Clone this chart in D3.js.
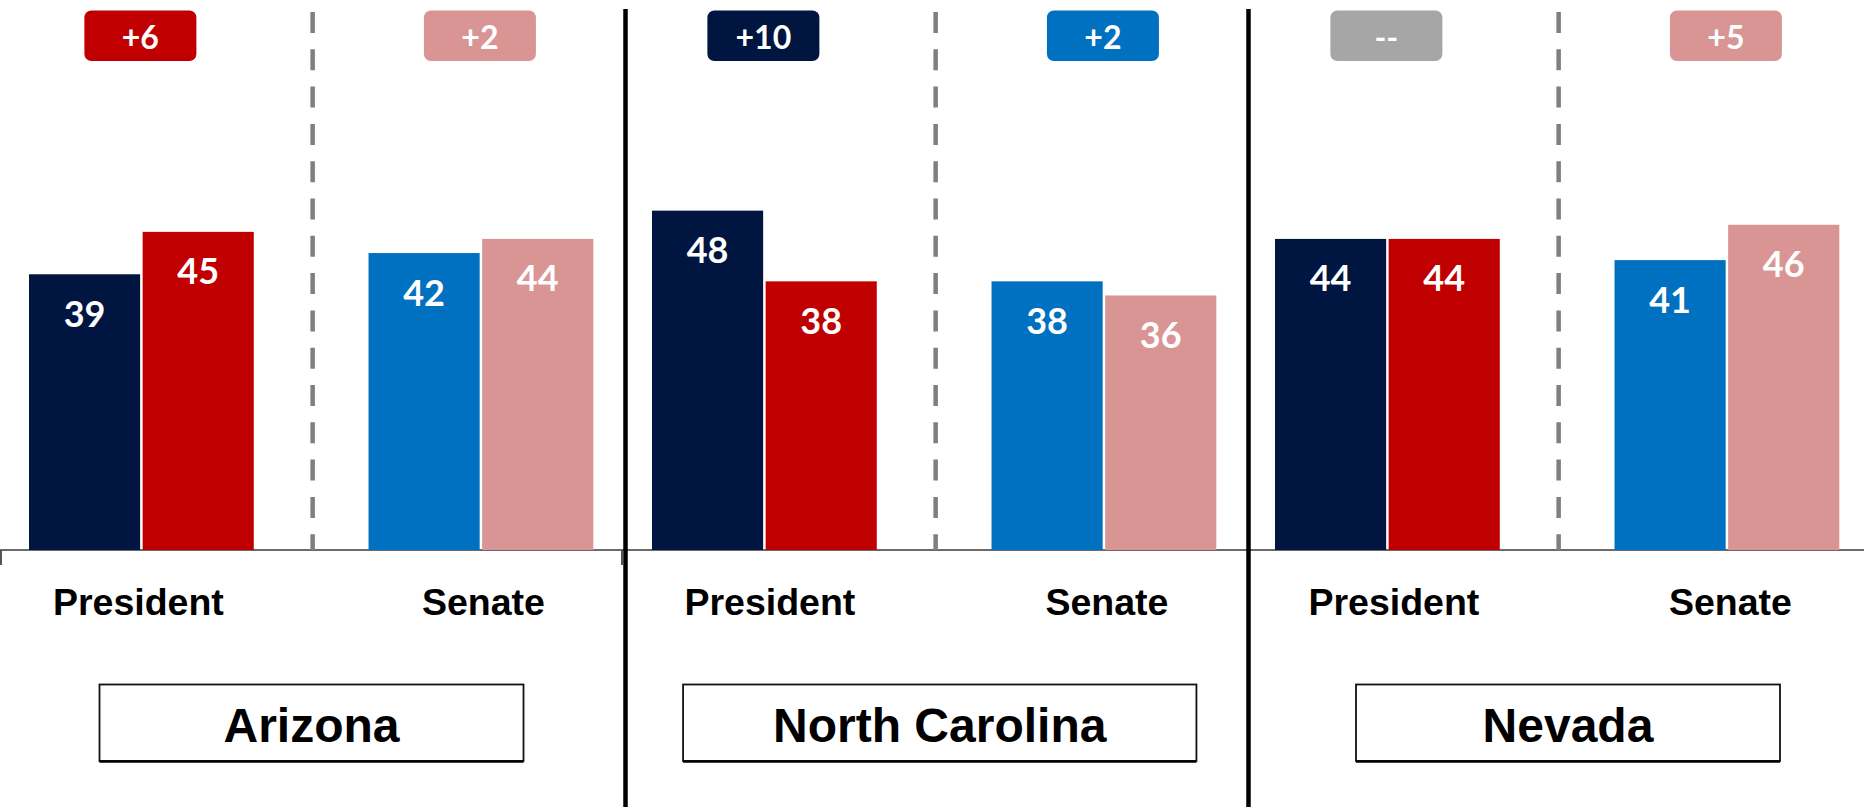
<!DOCTYPE html>
<html>
<head>
<meta charset="utf-8">
<script src="https://cdn.jsdelivr.net/npm/d3@7"></script>
<style>
  html, body { margin: 0; padding: 0; background: #ffffff; }
  svg { display: block; }
</style>
</head>
<body>
<svg id="chart" width="1864" height="807"></svg>
<script>
// ---- Data ----
const states = ["Arizona", "North Carolina", "Nevada"];
const races = ["President", "Senate"];
const demPresident = [39, 48, 44];
const repPresident = [45, 38, 44];
const demSenate = [42, 38, 41];
const repSenate = [44, 36, 46];
const presidentMargin = ["+6", "+10", "--"];
const senateMargin = ["+2", "+2", "+5"];

// ---- Styles ----
const colors = {
  President: { dem: "#001540", rep: "#C00000" },
  Senate: { dem: "#0070C0", rep: "#D99594" },
  tie: "#A6A6A6"
};

const W = 1864, H = 807;
const svg = d3.select("#chart");

const baseY = 550;
const y = d3.scaleLinear().domain([0, 50]).range([baseY, baseY - 353.5]);

const panel = d3.scaleBand().domain(states).range([0, 1869]).paddingInner(0).paddingOuter(0);
const x0 = d3.scaleBand().domain(races).range([29, 593.3]).paddingInner(0.338);
const x1 = d3.scaleBand().domain(["dem", "rep"]).range([0, x0.bandwidth()]).paddingInner(0.022);
const boxCenter = d3.scalePoint().domain(states).range([311.5, 1568]);

const rows = [];
states.forEach((s, i) => {
  rows.push({ state: s, race: "President", dem: demPresident[i], rep: repPresident[i], margin: presidentMargin[i] });
  rows.push({ state: s, race: "Senate", dem: demSenate[i], rep: repSenate[i], margin: senateMargin[i] });
});
// small horizontal nudges of the race labels (layout only)
const labelNudge = [-3, 2.5, 5.5, 3, 6.5, 3.5];

const gridLayer = svg.append("g");
const boxLayer = svg.append("g");

// baseline axis
gridLayer.append("line")
  .attr("x1", 0).attr("x2", W)
  .attr("y1", baseY).attr("y2", baseY)
  .attr("stroke", "#3a3a3a").attr("stroke-width", 1.6);

// small ticks
states.forEach((s, i) => {
  if (i === 2) return;
  const xt = panel(s) + (i === 0 ? 1 : -1);
  gridLayer.append("line")
    .attr("x1", xt).attr("x2", xt)
    .attr("y1", baseY).attr("y2", baseY + 15)
    .attr("stroke", "#555").attr("stroke-width", 2);
});

// dashed separators in each panel
states.forEach(s => {
  const xm = panel(s) + (x0("President") + x0.bandwidth() + x0("Senate")) / 2 + 1.5;
  gridLayer.append("line")
    .attr("x1", xm).attr("x2", xm)
    .attr("y1", 12).attr("y2", baseY)
    .attr("stroke", "#7F7F7F").attr("stroke-width", 4.5)
    .attr("stroke-dasharray", "21 16.3");
});

// panel separators
states.slice(1).forEach(s => {
  const xs = panel(s) + 2.5;
  gridLayer.append("line")
    .attr("x1", xs).attr("x2", xs)
    .attr("y1", 9).attr("y2", H)
    .attr("stroke", "#000").attr("stroke-width", 4.5);
});

// groups
const g = svg.selectAll("g.grp").data(rows).enter().append("g")
  .attr("class", "grp")
  .attr("transform", d => `translate(${panel(d.state) + x0(d.race)},0)`);

["dem", "rep"].forEach(party => {
  g.append("rect")
    .attr("x", x1(party))
    .attr("y", d => y(d[party]))
    .attr("width", x1.bandwidth())
    .attr("height", d => baseY - y(d[party]))
    .attr("fill", d => colors[d.race][party]);
  g.append("text")
    .attr("x", x1(party) + x1.bandwidth() / 2)
    .attr("y", d => y(d[party]) + 52.5)
    .attr("text-anchor", "middle")
    .attr("font-family", "Lato, 'Open Sans', sans-serif")
    .attr("font-weight", 700)
    .attr("font-size", 36)
    .attr("fill", "#fff")
    .text(d => d[party]);
});

// margin badges
const badgeW = 112, badgeH = 50.5;
g.append("rect")
  .attr("x", x0.bandwidth() / 2 - badgeW / 2 - 1)
  .attr("y", 10.5)
  .attr("width", badgeW).attr("height", badgeH)
  .attr("rx", 7).attr("ry", 7)
  .attr("fill", d => d.dem > d.rep ? colors[d.race].dem : (d.rep > d.dem ? colors[d.race].rep : colors.tie));
g.append("text")
  .attr("x", x0.bandwidth() / 2 - 1)
  .attr("y", 49)
  .attr("text-anchor", "middle")
  .attr("font-family", "Lato, 'Open Sans', sans-serif")
  .attr("font-weight", 700)
  .attr("font-size", 32)
  .attr("fill", "#fff")
  .text(d => d.margin);

// race labels
g.append("text")
  .attr("x", (d, i) => x0.bandwidth() / 2 + labelNudge[i])
  .attr("y", 615)
  .attr("text-anchor", "middle")
  .attr("font-family", "'Liberation Sans', Arial, sans-serif")
  .attr("font-weight", 700)
  .attr("font-size", 37.5)
  .attr("fill", "#000")
  .text(d => d.race);

// state boxes
states.forEach(s => {
  const cx = boxCenter(s);
  const rect = boxLayer.append("rect");
  const t = boxLayer.append("text")
    .attr("x", cx).attr("y", 741.5)
    .attr("text-anchor", "middle")
    .attr("font-family", "'Liberation Sans', Arial, sans-serif")
    .attr("font-weight", 700)
    .attr("font-size", 48)
    .attr("fill", "#000")
    .text(s);
  const tw = t.node().getComputedTextLength();
  const bw = Math.max(424, tw + 180);
  rect
    .attr("x", cx - bw / 2).attr("y", 684.5)
    .attr("width", bw).attr("height", 76.5)
    .attr("fill", "#fff")
    .attr("stroke", "#111").attr("stroke-width", 1.8);
  boxLayer.append("line")
    .attr("x1", cx - bw / 2).attr("x2", cx + bw / 2)
    .attr("y1", 761.5).attr("y2", 761.5)
    .attr("stroke", "#000").attr("stroke-width", 2.5);
});
</script>
</body>
</html>
